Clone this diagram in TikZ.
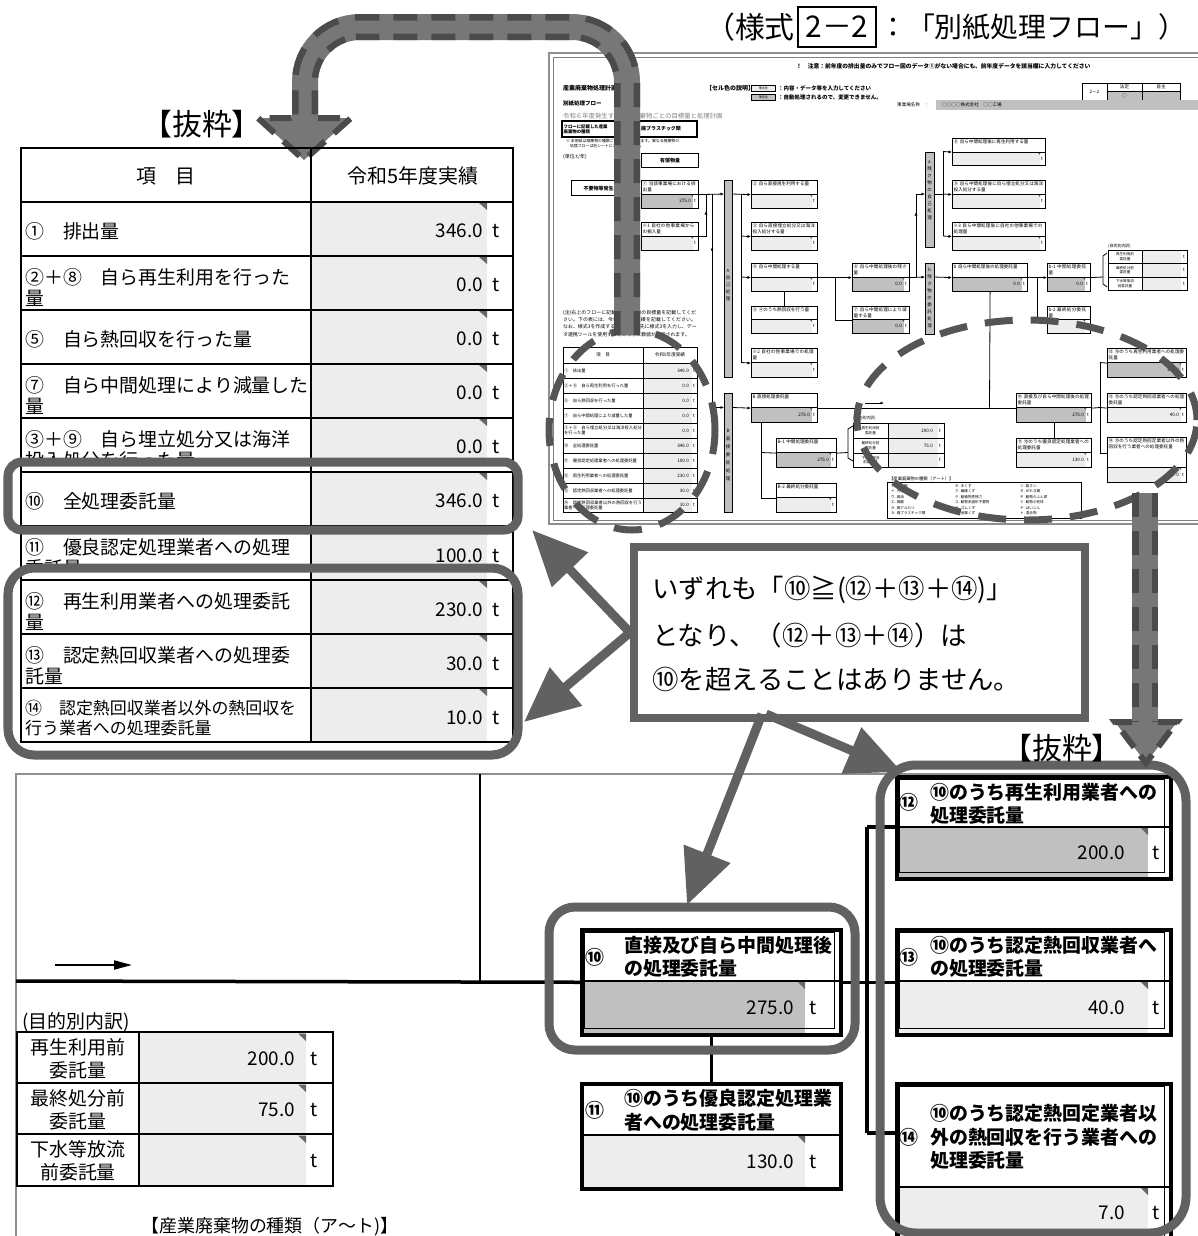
\documentclass[tikz,border=0pt]{standalone}
\usepackage{fontspec}
\setmainfont{Noto Sans CJK JP}
\XeTeXlinebreaklocale "ja"
\XeTeXlinebreakskip=0pt plus 1pt
\usetikzlibrary{arrows.meta}
\definecolor{hl}{HTML}{616161}
\definecolor{arrg}{HTML}{777777}
\definecolor{arrd}{HTML}{4B4B4B}
\definecolor{lg}{HTML}{EDEDED}
\definecolor{mg}{HTML}{C0C0C0}
\definecolor{fg}{HTML}{8E8E8E}
\definecolor{dg}{HTML}{555555}
\newcommand\fsz[2]{\fontsize{#1}{#2}\selectfont}
% thumbnail box: name,x1,y1,x2,y2,split,label,value,fill
\newcommand\tbx[9]{%
  \pgfmathsetmacro\tbw{#4-#2}%
  \pgfmathsetmacro\tbh{#5-#3}%
  \pgfmathsetmacro\tbtw{#4-#2-3}%
  \fill[#9] (#2,#6) rectangle ({#4-5},#5);
  \fill[black!65] ({#4-8},#6) -- ({#4-5},#6) -- ({#4-5},{#6+3}) -- cycle;
  \node[draw,line width=1.2bp,minimum width={\tbw bp},minimum height={\tbh bp},inner sep=0,anchor=north west] (#1) at (#2,#3) {};
  \draw[line width=0.6bp] (#2,#6) -- (#4,#6);
  \node[tl,anchor=north west,text width={\tbtw bp}] (#1-l) at ({#2+1.5},{#3+1.5}) {#7};
  \node[tl,anchor=east] (#1-v) at ({#4-7},{(#6+#5)/2}) {#8};
  \node[tl] (#1-t) at ({#4-3},{(#6+#5)/2}) {t};
}
% big box: name,x1,y1,x2,y2,split,grayend,fill,double
\newcommand\bbx[9]{%
  \pgfmathsetmacro\bbw{#4-#2}%
  \pgfmathsetmacro\bbh{#5-#3}%
  \fill[#8] (#2,#6) rectangle (#7,#5);
  \fill[black!60] ({#7-8},#6) -- (#7,#6) -- (#7,{#6+8}) -- cycle;
  \ifnum#9=1 \draw[line width=1bp] ({#2+4.5},{#3+4.5}) rectangle ({#4-4.5},{#5-4.5}); \fi
  \draw[line width=2bp] (#2,#6) -- (#4,#6);
  \node[draw,line width=3.5bp,minimum width={\bbw bp},minimum height={\bbh bp},inner sep=0,anchor=north west] (#1) at (#2,#3) {};
}
\begin{document}
\begin{tikzpicture}[x=1bp,y=-1bp,
  tl/.style={inner sep=0,font=\fsz{4.6}{5.6},align=left},
  tln/.style={line width=0.8bp},
  tarr/.style={line width=0.8bp,-{Latex[length=3.5bp,width=3bp]}},
  tx/.style={inner sep=0,anchor=west,font=\fsz{19}{23}},
  tv/.style={inner sep=0,font=\fsz{19}{23}},
  bt/.style={inner sep=0,anchor=west,font=\bfseries\fsz{19}{23}},
  hlbox/.style={draw=hl,line width=9bp},
  solidarr/.style={draw=hl,line width=9bp,-{Triangle[length=55bp,width=48bp]}},
  dell/.style={draw=dg,line width=7bp,dash pattern=on 28bp off 18bp},
  bigt/.style={inner sep=0,font=\fsz{30}{30}},
  callt/.style={inner sep=0,anchor=west,font=\fsz{26.5}{27}},
]
\useasboundingbox (0,0) rectangle (1198,1236);
\clip (0,0) rectangle (1198,1236);
\fill[white] (0,0) rectangle (1198,1236);

% ================= title
\node[draw,line width=1.6bp,minimum width=78bp,minimum height=40bp,bigt] (formno) at (837,27) {2－2};
\node[bigt,anchor=east] (title1) at (795,27) {（様式};
\node[bigt,anchor=west,font=\fsz{28}{28}] (title2) at (879,27) {：「別紙処理フロー」）};

% ================= thumbnail
\draw[fg,line width=2.5bp] (549,53) rectangle (1215,524);
\draw[gray,line width=0.7bp] (553,57) rectangle (1211,520);
\node[tl,anchor=west,font=\bfseries\fsz{5.8}{6}] (tnotice) at (796,66) {！　注意：前年度の排出量のみでフロー図のデータ①がない場合にも、前年度データを該当欄に入力してください};
\node[tl,anchor=west,font=\bfseries\fsz{6}{6}] (ttitle) at (563,88) {産業廃棄物処理計画};
\node[tl,anchor=west,font=\bfseries\fsz{6}{6}] (tcell) at (706,88) {【セル色の説明】};
\node[draw,fill=lg,line width=0.8bp,minimum width=24bp,minimum height=6bp,inner sep=0,font=\fsz{3}{3},anchor=north west] (tc1) at (751,85) {薄水色};
\node[draw,fill=mg,line width=0.8bp,minimum width=24bp,minimum height=6bp,inner sep=0,font=\fsz{3}{3},anchor=north west] (tc2) at (751,93.5) {薄灰色};
\node[tl,anchor=west,font=\bfseries\fsz{5.5}{6}] (tc1t) at (778,88) {：内容・データ等を入力してください};
\node[tl,anchor=west,font=\bfseries\fsz{5.5}{6}] (tc2t) at (778,97) {：自動処理されるので、変更できません。};
\node[tl,anchor=west,font=\bfseries\fsz{5.5}{6}] (tsub) at (563,104) {別紙処理フロー};
\node[tl,anchor=west,font=\fsz{6.4}{7},text=gray] (tyear) at (563,116) {令和６年度発生する産業廃棄物ごとの目標量と処理計画};
% 2-2 table
\fill[mg] (1107.5,91.5) rectangle (1179.5,99.5);
\draw[line width=0.8bp] (1082,83) rectangle (1180,100);
\draw[line width=0.6bp] (1107,83) -- (1107,100) (1142,83) -- (1142,100) (1107,91) -- (1180,91);
\node[tl] (tf1) at (1094.5,91.5) {2－2};
\node[tl] (tf2) at (1124.5,87) {法定};
\node[tl] (tf3) at (1161,87) {自主};
\node[tl] (tf4) at (1124.5,95.5) {○};
\node[tl,anchor=west] (tjig) at (897,105) {事業場名称　：};
\fill[mg] (936,100) rectangle (1198,110);
\node[tl,anchor=west] (tjign) at (942,105) {○○○○株式会社　○○工場};
% type box
\draw[line width=1.2bp] (562,121) rectangle (697,137);
\draw[line width=0.6bp] (636,121) -- (636,137);
\node[tl,anchor=west,font=\bfseries\fsz{4.4}{5.2}] (ttype) at (563.5,129) {フローに記載した産業\\廃棄物の種類};
\node[tl,anchor=west,font=\bfseries\fsz{5}{5}] (ttypev) at (641,129) {廃プラスチック類};
\node[tl,anchor=north west,font=\fsz{3.9}{5}] (tnote1) at (566,139) {※ 本用紙は廃棄物の種類ごとの記載となります。異なる廃棄物の\\\quad 処理フローは別シートにご記入ください。};
\node[tl,anchor=west,font=\fsz{5}{5}] (tunit) at (563,157) {(単位:t/年)};
\node[draw,line width=1.2bp,minimum width=57bp,minimum height=14bp,inner sep=0,font=\bfseries\fsz{5}{5},anchor=north west] (tpaid) at (641,153) {有償物量};
\node[draw,line width=1.2bp,minimum width=59bp,minimum height=15bp,inner sep=0,font=\bfseries\fsz{5}{5},anchor=north west] (tgen) at (571,180) {不要物等発生量};
% boxes
\tbx{t1}{641}{180}{698}{208}{194}{①\ 当該事業場における排出量}{275.0}{mg}
\tbx{ts1}{641}{222}{698}{250}{236}{※1 自社の他事業場からの搬入量}{}{lg}
\tbx{t2}{751}{180}{817}{208}{194}{②\ 自ら直接再生利用する量}{}{lg}
\tbx{t3}{751}{222}{817}{250}{236}{③\ 自ら直接埋立処分又は海洋投入処分する量}{}{lg}
\tbx{t4}{751}{263}{817}{291}{277}{④\ 自ら中間処理する量}{}{lg}
\tbx{t5}{751}{306}{817}{333}{319}{⑤\ ④のうち熱回収を行う量}{}{lg}
\tbx{ts2}{751}{348}{817}{377}{362}{※2 自社の他事業場での処理量}{}{lg}
\tbx{tB}{751}{393}{817}{422}{407}{B\ 直接処理委託量}{275.0}{mg}
\tbx{tB1}{776}{438}{836}{467}{452}{B-1 中間処理委託量}{275.0}{mg}
\tbx{tB2}{776}{483}{836}{512}{497}{B-2 最終処分委託量}{}{lg}
\tbx{t6}{852}{263}{909}{291}{277}{⑥\ 自ら中間処理後の残さ量}{0.0}{mg}
\tbx{t7}{852}{306}{909}{333}{319}{⑦\ 自ら中間処理により減量する量}{0.0}{mg}
\tbx{t8}{952}{138}{1045}{165}{152}{⑧\ 自ら中間処理後に再生利用する量}{}{lg}
\tbx{t9}{952}{180}{1045}{208}{194}{⑨\ 自ら中間処理後に自ら埋立処分又は海洋投入処分する量}{}{lg}
\tbx{ts3}{952}{222}{1045}{250}{236}{※3 自ら中間処理後に自社の他事業場での処理量}{}{lg}
\tbx{tb}{952}{263}{1027}{291}{277}{b\ 自ら中間処理後の処理委託量}{0.0}{mg}
\tbx{tb1}{1047}{263}{1090}{291}{277}{b-1 中間処理委託量}{0.0}{mg}
\tbx{tb2}{1047}{306}{1090}{333}{319}{b-2 最終処分委託量}{}{lg}
\tbx{t10}{1016}{393}{1091}{422}{407}{⑩\ 直接及び自ら中間処理後の処理委託量}{275.0}{mg}
\tbx{t11}{1016}{438}{1091}{467}{452}{⑪\ ⑩のうち優良認定処理業者への処理委託量}{130.0}{lg}
\tbx{t12}{1107}{348}{1186}{377}{362}{⑫\ ⑩のうち再生利用業者への処理委託量}{200.0}{mg}
\tbx{t13}{1107}{393}{1186}{422}{407}{⑬\ ⑩のうち認定熱回収業者への処理委託量}{40.0}{lg}
\tbx{t14}{1107}{437}{1186}{482}{467}{⑭\ ⑩のうち認定熱回定業者以外の熱回収を行う業者への処理委託量}{7.0}{lg}
% bars
\node[draw,fill=mg,line width=0.6bp,minimum width=8bp,minimum height=197bp,inner sep=0,anchor=north west] (tAbar) at (724,180) {};
\node[tl,align=center,font=\fsz{4.5}{7}] (tAbart) at (728,285) {A\\自\\己\\処\\理};
\node[draw,fill=mg,line width=0.6bp,minimum width=8bp,minimum height=119bp,inner sep=0,anchor=north west] (tBbar) at (724,393) {};
\node[tl,align=center,font=\fsz{4.5}{8}] (tBbart) at (728,455) {B\\直\\接\\委\\託\\処\\理};
\node[draw,fill=mg,line width=0.6bp,minimum width=9bp,minimum height=95bp,inner sep=0,anchor=north west] (tabar) at (925,152) {};
\node[tl,align=center,font=\fsz{4.5}{7}] (tabart) at (929.5,190) {a\\残\\さ\\物\\の\\自\\己\\処\\理};
\node[draw,fill=mg,line width=0.6bp,minimum width=9bp,minimum height=71bp,inner sep=0,anchor=north west] (tbbar) at (925,263) {};
\node[tl,align=center,font=\fsz{4.5}{7}] (tbbart) at (929.5,298) {b\\残\\さ\\物\\の\\委\\託\\処\\理};
% connectors
\draw[tarr] (tgen.east) -- (t1.west);
\draw[tarr] (t1.east) -- (724,194);
\draw[tln] (706,194) |- (ts1.east);
\draw[tarr] (706,230) -- (706,211);
\draw[tln] (712,194) -- (712,407.5);
\draw[tarr] (712,238) -- (712,252);
\draw[tarr] (712,407.5) -- (724,407.5);
\draw[tarr] (732,194) -- (t2.west);
\draw[tln] (741,194) -- (741,362.5);
\draw[tarr] (741,236) -- (t3.west);
\draw[tarr] (741,277) -- (t4.west);
\draw[tarr] (741,362.5) -- (ts2.west);
\draw[tln] (t4.south) -- (t5.north);
\draw[tarr] (t4.east) -- (t6.west);
\draw[tln] (835,277) |- (t7.west);
\draw[tarr] (t6.east) -- (925,277);
\draw[tarr] (916,277) -- (916,194) -- (925,194);
\draw[tarr] (916,228) -- (916,212);
\draw[tln] (934,194) -- (943,194);
\draw[tln] (943,151.5) -- (943,236);
\draw[tarr] (943,151.5) -- (t8.west);
\draw[tarr] (943,194) -- (t9.west);
\draw[tarr] (943,236) -- (ts3.west);
\draw[tarr] (934,277) -- (tb.west);
\draw[tarr] (tb.east) -- (tb1.west);
\draw[tln] (1037,277) |- (tb2.west);
\draw[tln] (tb.south) -- (989.5,407.5);
\draw[tarr] (732,407.5) -- (tB.west);
\draw[tln] (tB.east) -- (t10.west);
\draw[tln] (t10.east) -- (1100,407.5);
\draw[tln] (1100,362.5) -- (1100,453);
\draw[tln] (1100,362.5) -- (t12.west);
\draw[tln] (1100,407.5) -- (t13.west);
\draw[tln] (1100,453) -- (1107,453);
\draw[tln] (t10.south) -- (t11.north);
\draw[tln] (761,422) |- (tB2.west);
\draw[tln] (761,452.5) -- (tB1.west);
\draw[tarr] (865,403) -- (884,403);
% purpose tables
\node[tl,anchor=west,font=\fsz{4}{4}] (tpur1) at (1108,246) {(目的別内訳)};
\fill[lg] (1142.5,250.5) rectangle (1181,289.5);
\draw[line width=0.8bp] (1108,250) rectangle (1187,290);
\draw[line width=0.6bp] (1142,250) -- (1142,290) (1108,263) -- (1187,263) (1108,277) -- (1187,277);
\node[tl,align=center,font=\fsz{3.6}{4.3}] (tp11) at (1125,256.5) {再生利用前\\委託量};
\node[tl,align=center,font=\fsz{3.6}{4.3}] (tp12) at (1125,270) {最終処分前\\委託量};
\node[tl,align=center,font=\fsz{3.6}{4.3}] (tp13) at (1125,283.5) {下水等放流\\前委託量};
\foreach \yy in {256.5,270,283.5} \node[tl] at (1184,\yy) {t};
\draw[tln] (tb1.east) -- (1103,277);
\draw[tln] (1107,253) -- (1103,256) -- (1103,284) -- (1107,287);
\node[tl,anchor=west,font=\fsz{4}{4}] (tpur2) at (853,418) {(目的別内訳)};
\fill[lg] (888.5,423.5) rectangle (938,466.5);
\draw[line width=0.8bp] (853,423) rectangle (944,467);
\draw[line width=0.6bp] (888,423) -- (888,467) (853,438) -- (944,438) (853,453) -- (944,453);
\node[tl,align=center,font=\fsz{3.6}{4.3}] (tp21) at (870.5,430.5) {再生利用前\\委託量};
\node[tl,align=center,font=\fsz{3.6}{4.3}] (tp22) at (870.5,445.5) {最終処分前\\委託量};
\node[tl,align=center,font=\fsz{3.6}{4.3}] (tp23) at (870.5,460) {下水等放流\\前委託量};
\node[tl,anchor=east] (tp21v) at (933,430.5) {200.0};
\node[tl,anchor=east] (tp22v) at (933,445.5) {75.0};
\foreach \yy in {430.5,445.5,460} \node[tl] at (940,\yy) {t};
\draw[tln] (tB1.east) -- (848,452.5);
\draw[tln] (853,426) -- (848,429) -- (848,458) -- (853,461);
% kinds box
\node[tl,anchor=west,font=\fsz{4.3}{4.3}] (tkind) at (889,479) {【産業廃棄物の種類（ア～ト）】};
\draw[line width=0.8bp] (887,482) rectangle (1081,518);
\node[tl,anchor=north west,font=\fsz{3.6}{5.5}] (tk1) at (891,484) {ア. 燃え殻\\イ. 汚泥\\ウ. 廃油\\エ. 廃酸\\オ. 廃アルカリ\\カ. 廃プラスチック類};
\node[tl,anchor=north west,font=\fsz{3.6}{5.5}] (tk2) at (955,484) {キ. 木くず\\ク. 繊維くず\\ケ. 動植物性残さ\\コ. 動物系固形不要物\\サ. ゴムくず\\シ. 金属くず};
\node[tl,anchor=north west,font=\fsz{3.6}{5.5}] (tk3) at (1020,484) {ソ. 鉱さい\\タ. がれき類\\チ. 動物のふん尿\\ツ. 動物の死体\\テ. ばいじん\\ト. 混合物};
% left note + table
\node[tl,anchor=north west,text width=134bp,font=\fsz{4.9}{7.3}] (tnote2) at (563,310) {(注)右上のフローに記載した廃棄物の目標量を記載してください。下の表には、令和5年度の実績を記載してください。なお、様式3を作成する場合には、先に様式3を入力し、データ連携ツールを使用するとこちらに数値が反映されます。};
\fill[lg] (643.5,363) rectangle (692,512);
\draw[line width=1bp] (563,347) rectangle (697,512);
\draw[line width=0.6bp] (643,347) -- (643,512);
\foreach \yy in {363,378,...,498} \draw[line width=0.6bp] (563,\yy) -- (697,\yy);
\node[tl] (tth1) at (603,355) {項　目};
\node[tl] (tth2) at (670,355) {令和5年度実績};
\foreach \yy/\lab/\val in {370.5/{①　排出量}/346.0, 385.5/{②＋⑧　自ら再生利用を行った量}/0.0, 400.5/{⑤　自ら熱回収を行った量}/0.0, 415.5/{⑦　自ら中間処理により減量した量}/0.0, 430.5/{③＋⑨　自ら埋立処分又は海洋投入処分を行った量}/0.0, 445.5/{⑩　全処理委託量}/346.0, 460.5/{⑪　優良認定処理業者への処理委託量}/100.0, 475.5/{⑫　再生利用業者への処理委託量}/230.0, 490.5/{⑬　認定熱回収業者への処理委託量}/30.0, 505/{⑭　認定熱回収業者以外の熱回収を行う業者への処理委託量}/10.0}{
  \node[tl,anchor=west,text width=78bp,font=\fsz{4.3}{5.2}] at (564,\yy) {\lab};
  \node[tl,anchor=east] at (689,\yy) {\val};
  \node[tl] at (694,\yy) {t};
}

% dashed ellipses
\draw[dell] (632,430) ellipse [x radius=83bp, y radius=100bp];
\draw[dell] (1027,420) ellipse [x radius=170bp, y radius=100bp];

% curved dashed arrow A1
\draw[arrg,line width=26bp,rounded corners=55bp] (627,335) -- (627,27) -- (305,27) -- (305,120);
\draw[arrd,line width=26bp,rounded corners=55bp,dash pattern=on 24bp off 14bp] (627,335) -- (627,27) -- (305,27) -- (305,120);
\draw[arrg,line width=13bp,rounded corners=55bp] (627,335) -- (627,27) -- (305,27) -- (305,121);
\fill[arrg] (258,118) -- (351,118) -- (304,160) -- cycle;
\draw[arrd,line width=6bp,dash pattern=on 22bp off 12bp] (318,118) -- (351,118) -- (304,160) -- (258,118) -- (292,118);

% ================= top-left table
\node[bigt] (ext1) at (202,124) {【抜粋】};
\foreach \y in {202,256,...,688}{
  \fill[lg] (312,\y) rectangle (487,\y+54);
  \fill[black!60] (479,\y+1) -- (487,\y+1) -- (487,\y+8) -- cycle;
}
\draw[line width=2.5bp] (21,148) rectangle (513,742);
\draw[line width=2bp] (311,148) -- (311,742);
\foreach \y in {202,256,...,688} \draw[line width=2bp] (21,\y) -- (513,\y);
\node[tv,font=\fsz{20}{24}] (h1) at (166,176) {項　目};
\node[tv,font=\fsz{20}{24}] (h2) at (413,176) {令和5年度実績};
\node[tx] (r1) at (25,231) {①　排出量};
\node[tx] (r2a) at (25,277) {②＋⑧　自ら再生利用を行った};
\node[tx] (r2b) at (25,298) {量};
\node[tx] (r3) at (25,339) {⑤　自ら熱回収を行った量};
\node[tx] (r4a) at (25,385) {⑦　自ら中間処理により減量した};
\node[tx] (r4b) at (25,406) {量};
\node[tx] (r5a) at (25,439) {③＋⑨　自ら埋立処分又は海洋};
\node[tx] (r5b) at (25,460) {投入処分を行った量};
\node[tx] (r6) at (25,501) {⑩　全処理委託量};
\node[tx] (r7a) at (25,547) {⑪　優良認定処理業者への処理};
\node[tx] (r7b) at (25,568) {委託量};
\node[tx] (r8a) at (25,601) {⑫　再生利用業者への処理委託};
\node[tx] (r8b) at (25,622) {量};
\node[tx] (r9a) at (25,655) {⑬　認定熱回収業者への処理委};
\node[tx] (r9b) at (25,676) {託量};
\node[tx,font=\fsz{17}{20}] (r10a) at (25,708) {⑭　認定熱回収業者以外の熱回収を};
\node[tx,font=\fsz{17}{20}] (r10b) at (25,728) {行う業者への処理委託量};
\foreach \yy/\val in {231/346.0,285/0.0,339/0.0,393/0.0,447/0.0,501/346.0,556/100.0,610/230.0,664/30.0,718/10.0}{
  \node[tv,anchor=east] at (483,\yy) {\val};
  \node[tv] at (496,\yy) {t};
}
% white halo below highlight bands (text hidden there)
\fill[white] (23,466) rectangle (310,471);
\fill[white] (312,466) rectangle (509,471);
\fill[white] (23,572) rectangle (310,579);
\fill[lg] (312,572) rectangle (487,579);
\draw[hlbox,rounded corners=14bp] (8,462) rectangle (518,530);
\draw[hlbox,rounded corners=26bp] (8,568) rectangle (518,755);

% ================= callout
\node[draw=hl,line width=8bp,fill=white,minimum width=451bp,minimum height=171bp,inner sep=0,anchor=north west] (call) at (630,543) {};
\node[callt] (c1) at (652,590) {いずれも「⑩≧(⑫＋⑬＋⑭)」};
\node[callt] (c2) at (652,635) {となり、（⑫＋⑬＋⑭）は};
\node[callt] (c3) at (652,679) {⑩を超えることはありません。};
\coordinate (cb1) at (762,714);
\coordinate (cb2) at (766,714);

% ================= bottom section
\draw[fg,line width=1.5bp] (16,1240) -- (16,774) -- (1169,774);
\draw[line width=2bp] (480,774) -- (480,981);
\draw[line width=2bp,-{Triangle[length=18bp,width=9bp]}] (55,965) -- (132,965);
\bbx{b10}{580}{928}{839}{1033}{981}{805}{mg}{1}
\bbx{b11}{580}{1082}{839}{1187}{1135}{805}{lg}{0}
\bbx{b12}{895}{775}{1169}{877}{827}{1148}{mg}{1}
\bbx{b13}{895}{928}{1169}{1033}{981}{1148}{lg}{1}
\bbx{b14}{895}{1082}{1169}{1250}{1187}{1148}{lg}{1}
\draw[line width=3.5bp] (16,981) -- (b10.west);
\draw[line width=3.5bp] (b10.east) -- (b13.west);
\draw[line width=3.5bp] (867,827) -- (867,1133);
\draw[line width=3.5bp] (867,827) -- (895,827);
\draw[line width=3.5bp] (867,1133) -- (895,1133);
\draw[line width=3.5bp] (b10.south) -- (b11.north);
% box texts
\node[bt,anchor=center] (b10n) at (595,957) {⑩};
\node[bt] (b10a) at (624,945) {直接及び自ら中間処理後};
\node[bt] (b10b) at (624,968) {の処理委託量};
\node[tv,anchor=east] (b10v) at (794,1008) {275.0};
\node[tv] (b10t) at (813,1008) {t};
\node[bt,anchor=center] (b11n) at (595,1110) {⑪};
\node[bt] (b11a) at (624,1098) {⑩のうち優良認定処理業};
\node[bt] (b11b) at (624,1122) {者への処理委託量};
\node[tv,anchor=east] (b11v) at (794,1162) {130.0};
\node[tv] (b11t) at (813,1162) {t};
\node[bt,anchor=center] (b12n) at (909,802) {⑫};
\node[bt] (b12a) at (930,792) {⑩のうち再生利用業者への};
\node[bt] (b12b) at (930,815) {処理委託量};
\node[tv,anchor=east] (b12v) at (1125,853) {200.0};
\node[tv] (b12t) at (1156,853) {t};
\node[bt,anchor=center] (b13n) at (909,957) {⑬};
\node[bt] (b13a) at (930,945) {⑩のうち認定熱回収業者へ};
\node[bt] (b13b) at (930,968) {の処理委託量};
\node[tv,anchor=east] (b13v) at (1125,1008) {40.0};
\node[tv] (b13t) at (1156,1008) {t};
\node[bt,anchor=center] (b14n) at (909,1137) {⑭};
\node[bt] (b14a) at (930,1113) {⑩のうち認定熱回定業者以};
\node[bt] (b14b) at (930,1137) {外の熱回収を行う業者への};
\node[bt] (b14c) at (930,1160) {処理委託量};
\node[tv,anchor=east] (b14v) at (1125,1213) {7.0};
\node[tv] (b14t) at (1156,1213) {t};
% purpose table
\node[tx] (pur) at (22,1022) {(目的別内訳)};
\fill[lg] (140,1033) rectangle (306,1185);
\foreach \y in {1032,1083,1134} \fill[black!60] (298,\y+1.5) -- (306,\y+1.5) -- (306,\y+9) -- cycle;
\draw[line width=2.5bp] (17,1032) rectangle (333,1186);
\draw[line width=2.5bp] (139,1032) -- (139,1186) (17,1083) -- (333,1083) (17,1134) -- (333,1134);
\node[tv] (p1a) at (78,1047) {再生利用前};
\node[tv] (p1b) at (78,1070) {委託量};
\node[tv] (p2a) at (78,1098) {最終処分前};
\node[tv] (p2b) at (78,1121) {委託量};
\node[tv] (p3a) at (78,1149) {下水等放流};
\node[tv] (p3b) at (78,1172) {前委託量};
\node[tv,anchor=east] (p1v) at (295,1059) {200.0};
\node[tv,anchor=east] (p2v) at (295,1110) {75.0};
\node[tv] (p1t) at (314,1059) {t};
\node[tv] (p2t) at (314,1110) {t};
\node[tv] (p3t) at (314,1161) {t};
\node[tv,font=\fsz{18}{20}] (kinds) at (270,1227) {【産業廃棄物の種類（ア～ト)】};
% highlights bottom
\draw[hlbox,rounded corners=26bp] (549,907) rectangle (855,1050);
\draw[hlbox,rounded corners=36bp] (880,765) rectangle (1186,1233);
\node[bigt] (ext2) at (1062,748) {【抜粋】};

% solid arrows
\draw[solidarr] (call.west) -- (532,530);
\draw[solidarr] (call.west) -- (524,722);
\draw[solidarr] (cb1) -- (687,905);
\draw[solidarr] (cb2) -- (902,772);

% right dashed arrow A2
\draw[arrg,line width=26bp] (1145,493) -- (1145,724);
\draw[arrd,line width=26bp,dash pattern=on 24bp off 14bp] (1145,493) -- (1145,724);
\draw[arrg,line width=13bp] (1145,493) -- (1145,725);
\fill[arrg] (1115,722) -- (1177,722) -- (1146,763) -- cycle;
\draw[arrd,line width=6bp,dash pattern=on 20bp off 10bp] (1158,722) -- (1177,722) -- (1146,763) -- (1115,722) -- (1132,722);
\end{tikzpicture}
\end{document}
